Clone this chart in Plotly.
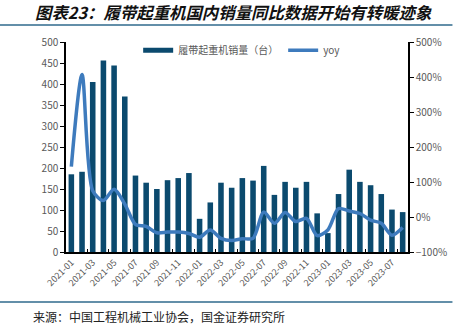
import plotly.graph_objects as go

months = ["2021-01","2021-02","2021-03","2021-04","2021-05","2021-06","2021-07","2021-08","2021-09","2021-10","2021-11","2021-12",
          "2022-01","2022-02","2022-03","2022-04","2022-05","2022-06","2022-07","2022-08","2022-09","2022-10","2022-11","2022-12",
          "2023-01","2023-02","2023-03","2023-04","2023-05","2023-06","2023-07","2023-08"]
sales = [185, 191, 405, 456, 444, 370, 182, 165, 150, 171, 176, 188,
         79, 118, 165, 153, 176, 170, 205, 136, 167, 153, 167, 92,
         45, 138, 196, 167, 159, 138, 101, 95]
yoy = [144, 407, 75, 47, 79, 37, -21, -27, -45, -43, -43, -47,
       -58, -37, -61, -67, -62, -61, 14, -18, 13, -13, -4, -53,
       -37, 24, 17, 10, -9, -18, -52, -30]

title = "图表23：履带起重机国内销量同比数据开始有转暖迹象"
source = "来源：中国工程机械工业协会，国金证券研究所"
bar_name = "履带起重机销量（台）"
line_name = "yoy"

FONT = "Noto Sans CJK SC, Liberation Sans, sans-serif"
GRAY = "#595959"
BAR_C = "#0b4a6e"
LINE_C = "#3e7bbd"

fig = go.Figure()
fig.add_trace(go.Bar(x=months, y=sales, name=bar_name, marker_color=BAR_C,
                     marker_line_width=0, yaxis="y", showlegend=False))
# legend proxy for the bar series (wide flat swatch like the reference)
fig.add_trace(go.Scatter(x=[None], y=[None], name=bar_name, mode="lines",
                         line=dict(color=BAR_C, width=5), yaxis="y"))
fig.add_trace(go.Scatter(x=months, y=yoy, name=line_name, mode="lines",
                         line=dict(color=LINE_C, width=3.5, shape="spline", smoothing=0.8),
                         yaxis="y2"))

fig.update_layout(
    width=465, height=327,
    margin=dict(l=66, r=57, t=42, b=75),
    paper_bgcolor="white", plot_bgcolor="white",
    font=dict(family=FONT, size=10, color=GRAY),
    bargap=0.48,
    showlegend=True,
    legend=dict(orientation="h", x=0.211, y=1.03, xanchor="left", yanchor="top",
                font=dict(size=10, color=GRAY), bgcolor="rgba(0,0,0,0)",
                itemwidth=30, tracegroupgap=0),
    xaxis=dict(type="category", tickangle=-45, tickmode="array",
               tickvals=months[::2], ticktext=months[::2],
               showline=True, linecolor="black", linewidth=1.5,
               ticks="inside", tickson="boundaries", ticklen=3, tickcolor="black",
               tickfont=dict(size=9, color=GRAY), showgrid=False, mirror=False),
    yaxis=dict(range=[0, 500], dtick=50, showline=True, linecolor="black", linewidth=1.5,
               ticks="outside", ticklen=4, tickcolor="black", showgrid=False,
               zeroline=False, tickfont=dict(size=10, color=GRAY)),
    yaxis2=dict(range=[-100, 500], dtick=100, overlaying="y", side="right",
                showline=True, linecolor="black", linewidth=1.5,
                ticks="outside", ticklen=4, tickcolor="black", showgrid=False,
                zeroline=False, ticksuffix="%", tickfont=dict(size=10, color=GRAY)),
)

fig.add_annotation(text="<b><i>" + title + "</i></b>", xref="paper", yref="paper",
                   x=(33 - 66) / 342, y=(252 - 12) / 210, xanchor="left", yanchor="middle",
                   showarrow=False, font=dict(family=FONT, size=16.4, color="#111111"))
fig.add_annotation(text=source, xref="paper", yref="paper",
                   x=(31 - 66) / 342, y=(252 - 316) / 210, xanchor="left", yanchor="middle",
                   showarrow=False, font=dict(family=FONT, size=12, color="#222222"))

fig.add_shape(type="line", xref="paper", yref="paper", x0=-0.193, x1=1.13,
              y0=(252 - 25) / 210, y1=(252 - 25) / 210, line=dict(color="#2f6a8c", width=1.5))
fig.add_shape(type="line", xref="paper", yref="paper", x0=-0.193, x1=1.13,
              y0=(252 - 302) / 210, y1=(252 - 302) / 210, line=dict(color="#2f6a8c", width=1.5))

fig.write_html("out.html")
